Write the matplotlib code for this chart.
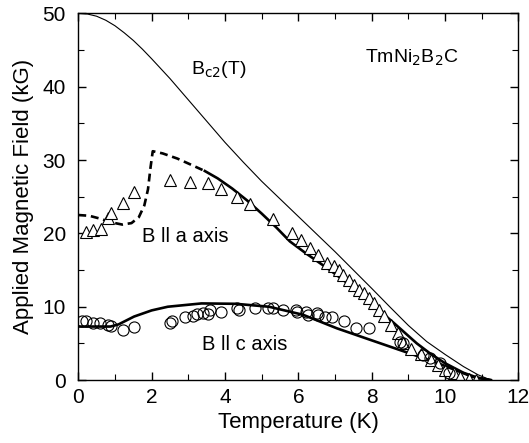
import matplotlib
matplotlib.use("Agg")
import matplotlib.pyplot as plt
from matplotlib.ticker import MultipleLocator

plt.rcParams['font.family'] = ['Liberation Sans', 'DejaVu Sans']

# Data: B || a axis (triangles)
a_T = [0.21, 0.41, 0.61, 0.80, 0.90, 1.21, 1.51, 2.51, 3.05, 3.55, 3.90, 4.34, 4.69,
       5.31, 5.84, 6.07, 6.32, 6.53, 6.77, 6.96, 7.10, 7.23, 7.37, 7.51, 7.65, 7.79,
       7.93, 8.06, 8.20, 8.34, 8.53, 8.71, 8.85, 9.08, 9.35, 9.63, 9.82, 10.0, 10.23,
       10.41, 10.65, 10.83]
a_B = [20.2, 20.4, 20.6, 22.1, 22.8, 24.1, 25.6, 27.3, 27.0, 26.9, 26.0, 25.0, 24.0,
       22.0, 20.0, 19.1, 18.0, 17.0, 16.0, 15.5, 14.95, 14.35, 13.7, 13.0, 12.3, 11.85,
       11.2, 10.5, 9.6, 8.7, 7.5, 6.4, 5.0, 4.3, 3.6, 2.7, 2.05, 1.4, 0.9,
       0.45, 0.2, 0.0]

# Data: B || c axis (circles)
c_T = [0.09, 0.21, 0.41, 0.60, 0.80, 0.90, 1.21, 1.51, 2.51, 2.55, 2.90, 3.13, 3.23,
       3.41, 3.55, 3.60, 3.90, 4.33, 4.38, 4.81, 5.16, 5.30, 5.59, 5.94, 5.96, 6.22,
       6.27, 6.50, 6.54, 6.73, 6.91, 7.25, 7.58, 7.93, 8.76, 8.85, 9.40, 9.58, 9.86, 10.1]
c_B = [8.0, 8.0, 7.85, 7.75, 7.5, 7.4, 6.85, 7.2, 7.75, 8.07, 8.57, 8.75, 9.0,
       9.1, 9.0, 9.57, 9.25, 9.8, 9.5, 9.8, 9.8, 9.8, 9.57, 9.57, 9.25, 9.25,
       8.9, 9.1, 8.9, 8.66, 8.57, 8.0, 7.06, 7.06, 5.24, 5.0, 3.4, 2.96, 2.28, 0.9]

# Theory curves
bc2_T = [0.0, 0.25, 0.5, 0.75, 1.0, 1.25, 1.5, 1.75, 2.0, 2.5, 3.0, 3.5, 4.0, 4.5, 5.0,
         5.5, 6.0, 6.5, 7.0, 7.5, 8.0, 8.5, 9.0, 9.5, 10.0, 10.5, 10.9, 11.25]
bc2_B = [50.0, 49.9, 49.6, 49.05, 48.3, 47.35, 46.3, 45.1, 43.8, 41.1, 38.2, 35.3, 32.4,
         29.7, 27.1, 24.7, 22.3, 19.9, 17.5, 15.0, 12.5, 9.95, 7.45, 5.25, 3.5, 1.85, 0.72, 0.0]

a_dash_T = [0.0, 0.3, 0.6, 0.9, 1.2, 1.45, 1.65, 1.8, 1.9, 1.97, 2.03, 2.3, 2.7, 3.1, 3.45]
a_dash_B = [22.5, 22.4, 22.0, 21.5, 21.2, 21.4, 22.2, 23.8, 26.0, 29.0, 31.2, 30.9, 30.2, 29.3, 28.5]
a_sol_T = [3.45, 3.8, 4.2, 4.6, 5.0, 5.4, 5.77, 6.2, 6.86, 7.5, 8.09, 8.6, 9.23, 9.6, 10.0, 10.5, 10.9, 11.25]
a_sol_B = [28.5, 27.5, 26.1, 24.5, 22.7, 20.8, 18.9, 17.3, 15.0, 12.6, 10.0, 7.8, 5.0, 3.6, 2.3, 1.0, 0.3, 0.0]

c_th_T = [0.0, 0.5, 0.88, 1.1, 1.52, 2.0, 2.44, 3.36, 4.29, 5.2, 6.13, 7.05, 7.97, 8.9, 9.82, 10.74, 11.24]
c_th_B = [7.3, 7.3, 7.3, 7.6, 8.66, 9.5, 10.0, 10.45, 10.4, 10.0, 8.9, 7.06, 5.47, 3.87, 2.28, 0.46, 0.0]

fig = plt.figure(figsize=(5.29, 4.43), dpi=100)
ax = fig.add_axes([0.148, 0.142, 0.832, 0.828])

ax.plot(bc2_T, bc2_B, color='black', lw=0.8)
ax.plot(a_dash_T, a_dash_B, color='black', lw=1.9, ls=(0, (3.0, 1.8)))
ax.plot(a_sol_T, a_sol_B, color='black', lw=1.9)
ax.plot(c_th_T, c_th_B, color='black', lw=1.9)
ax.plot(a_T, a_B, ls='none', marker='^', ms=8, mfc='white', mec='black', mew=0.8)
ax.plot(c_T, c_B, ls='none', marker='o', ms=8, mfc='none', mec='black', mew=0.8)

ax.set_xlim(0, 12)
ax.set_ylim(0, 50)
ax.xaxis.set_major_locator(MultipleLocator(2))
ax.xaxis.set_minor_locator(MultipleLocator(1))
ax.yaxis.set_major_locator(MultipleLocator(10))
ax.yaxis.set_minor_locator(MultipleLocator(5))
ax.tick_params(which='both', direction='in', top=True, right=True, labelsize=15, color='black')
ax.tick_params(axis='x', which='major', pad=6)
ax.tick_params(axis='y', which='major', pad=9)
ax.tick_params(which='major', length=6, width=1.0)
ax.tick_params(which='minor', length=4, width=0.8)
for s in ax.spines.values():
    s.set_linewidth(1.0)

ax.set_xlabel('Temperature (K)', fontsize=16, labelpad=3)
ax.set_ylabel('Applied Magnetic Field (kG)', fontsize=16, labelpad=6)

ax.text(3.83, 42.4, r'B$_{\mathrm{c2}}$(T)', fontsize=14, ha='center', va='center')
ax.text(9.09, 43.9, r'TmNi$_2$B$_2$C', fontsize=14, ha='center', va='center')
ax.text(2.91, 19.6, 'B ll a axis', fontsize=14.5, ha='center', va='center')
ax.text(4.54, 4.8, 'B ll c axis', fontsize=14.5, ha='center', va='center')

fig.savefig('out.png', dpi=100)
